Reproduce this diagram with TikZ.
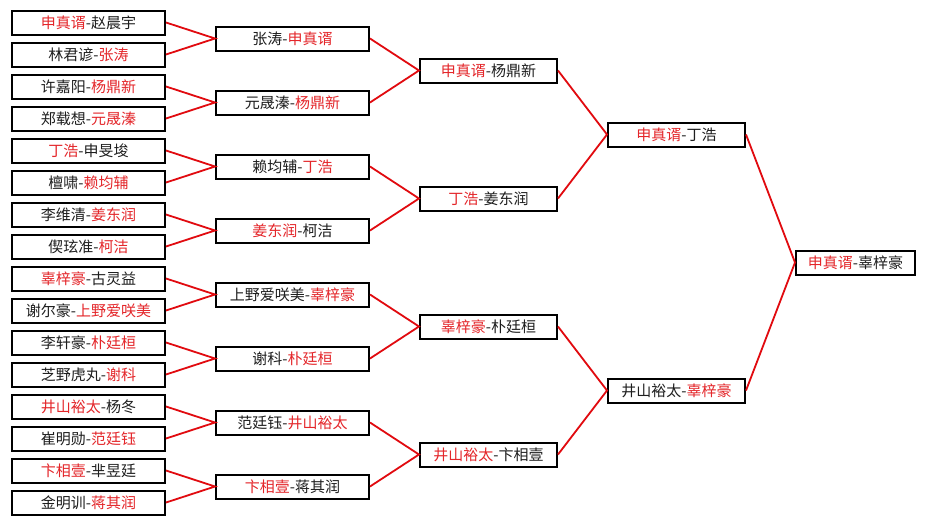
\documentclass[tikz,border=0pt]{standalone}
\usepackage{fontspec}
\newfontfamily\cjk{Noto Sans CJK SC}
\definecolor{winred}{RGB}{228,38,42}
\definecolor{linered}{RGB}{225,10,15}
\definecolor{txt}{RGB}{30,30,30}
\newcommand{\R}[1]{\textcolor{winred}{#1}}
\tikzset{
  box/.style={draw=black, line width=2pt, fill=white, inner sep=0pt, minimum height=24pt,
    text=txt, font=\cjk\fontsize{15pt}{16pt}\selectfont},
  c1/.style={box, minimum width=153pt},
  c2/.style={box, minimum width=153pt},
  c3/.style={box, minimum width=137pt},
  c4/.style={box, minimum width=137pt},
  c5/.style={box, minimum width=119pt},
  link/.style={draw=linered, line width=1.8pt}
}
\begin{document}
\begin{tikzpicture}[x=1pt,y=-1pt]
\useasboundingbox[fill=white] (0,0) rectangle (926,525);
% column 1
\node[c1] (a1)  at (88.5,22.5)  {\R{申真谞}-赵晨宇};
\node[c1] (a2)  at (88.5,54.5)  {林君谚-\R{张涛}};
\node[c1] (a3)  at (88.5,86.5)  {许嘉阳-\R{杨鼎新}};
\node[c1] (a4)  at (88.5,118.5) {郑载想-\R{元晟溱}};
\node[c1] (a5)  at (88.5,150.5) {\R{丁浩}-申旻埈};
\node[c1] (a6)  at (88.5,182.5) {檀啸-\R{赖均辅}};
\node[c1] (a7)  at (88.5,214.5) {李维清-\R{姜东润}};
\node[c1] (a8)  at (88.5,246.5) {偰玹准-\R{柯洁}};
\node[c1] (a9)  at (88.5,278.5) {\R{辜梓豪}-古灵益};
\node[c1] (a10) at (88.5,310.5) {谢尔豪-\R{上野爱咲美}};
\node[c1] (a11) at (88.5,342.5) {李轩豪-\R{朴廷桓}};
\node[c1] (a12) at (88.5,374.5) {芝野虎丸-\R{谢科}};
\node[c1] (a13) at (88.5,406.5) {\R{井山裕太}-杨冬};
\node[c1] (a14) at (88.5,438.5) {崔明勋-\R{范廷钰}};
\node[c1] (a15) at (88.5,470.5) {\R{卞相壹}-芈昱廷};
\node[c1] (a16) at (88.5,502.5) {金明训-\R{蒋其润}};
% column 2
\node[c2] (b1) at (292.5,38.5)  {张涛-\R{申真谞}};
\node[c2] (b2) at (292.5,102.5) {元晟溱-\R{杨鼎新}};
\node[c2] (b3) at (292.5,166.5) {赖均辅-\R{丁浩}};
\node[c2] (b4) at (292.5,230.5) {\R{姜东润}-柯洁};
\node[c2] (b5) at (292.5,294.5) {上野爱咲美-\R{辜梓豪}};
\node[c2] (b6) at (292.5,358.5) {谢科-\R{朴廷桓}};
\node[c2] (b7) at (292.5,422.5) {范廷钰-\R{井山裕太}};
\node[c2] (b8) at (292.5,486.5) {\R{卞相壹}-蒋其润};
% column 3
\node[c3] (c1n) at (488.5,70.5)  {\R{申真谞}-杨鼎新};
\node[c3] (c2n) at (488.5,198.5) {\R{丁浩}-姜东润};
\node[c3] (c3n) at (488.5,326.5) {\R{辜梓豪}-朴廷桓};
\node[c3] (c4n) at (488.5,454.5) {\R{井山裕太}-卞相壹};
% column 4
\node[c4] (d1) at (676.5,134.5) {\R{申真谞}-丁浩};
\node[c4] (d2) at (676.5,390.5) {井山裕太-\R{辜梓豪}};
% column 5
\node[c5] (e) at (855.5,262.5) {\R{申真谞}-辜梓豪};
% connectors
\foreach \p/\x/\y in {b1/a1/a2, b2/a3/a4, b3/a5/a6, b4/a7/a8, b5/a9/a10, b6/a11/a12, b7/a13/a14, b8/a15/a16,
  c1n/b1/b2, c2n/b3/b4, c3n/b5/b6, c4n/b7/b8, d1/c1n/c2n, d2/c3n/c4n, e/d1/d2}{
  \draw[link] (\x.east) -- (\p.west) -- (\y.east);
}
\end{tikzpicture}
\end{document}
